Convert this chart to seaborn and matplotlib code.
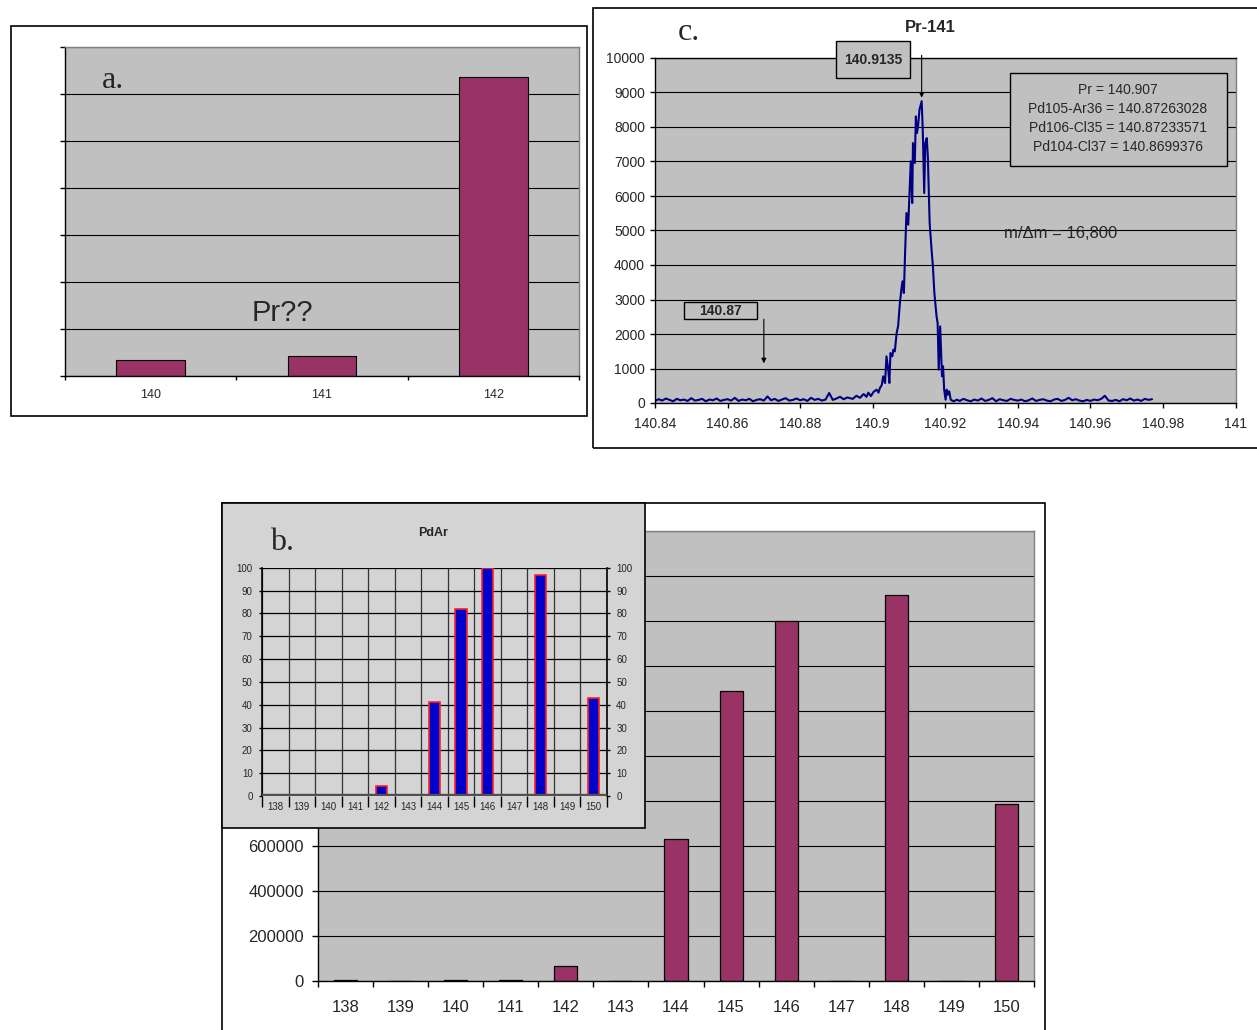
import numpy as np
import pandas as pd
import matplotlib
matplotlib.use("Agg")
import matplotlib.pyplot as plt
from matplotlib.patches import Rectangle
import seaborn as sns

# ---------------------------------------------------------------- data
# a. counts around mass 140-142
a_masses = ["140", "141", "142"]
a_counts = [340, 430, 6370]

# b. PdAr cluster: measured counts and calculated relative abundance (%)
b_masses = ["138", "139", "140", "141", "142", "143", "144",
            "145", "146", "147", "148", "149", "150"]
b_counts = [4000, 0, 4000, 4000, 68000, 0, 630000,
            1290000, 1600000, 0, 1715000, 0, 785000]
pdar_pct = [0, 0, 0, 0, 4.2, 0, 41.2, 81.7, 100, 0, 96.6, 0, 42.8]

# c. high-resolution scan of Pr-141
scan_step = 0.001
left_base_start = 140.840
left_base = [60, 110, 70, 130, 90, 50, 120, 80, 100, 60, 140, 70, 90, 120,
             50, 100, 80, 130, 60, 90, 110, 70, 150, 60, 100, 80, 120, 50,
             90, 110, 70, 190, 80, 120, 60, 100, 140, 70, 90, 130, 80, 110,
             60, 150, 90, 120, 70, 100, 290, 90, 130, 180, 110, 160]
peak_mass = [140.8945, 140.8955, 140.8965, 140.8975, 140.8983, 140.8988,
             140.8995, 140.9003, 140.9011, 140.9016, 140.9020, 140.9025,
             140.9029, 140.9034, 140.9038, 140.9043, 140.9046, 140.9049,
             140.9054, 140.9057, 140.9061, 140.9066, 140.9070, 140.9075,
             140.9079, 140.9082, 140.9086, 140.9089, 140.9093, 140.9098,
             140.9102, 140.9105, 140.9109, 140.9111, 140.9116, 140.9119,
             140.9122, 140.9125, 140.9129, 140.9135, 140.9138, 140.9142,
             140.9145, 140.9149, 140.9152, 140.9155, 140.9157, 140.9161,
             140.9163, 140.9166, 140.9170, 140.9176, 140.9179, 140.9182,
             140.9186, 140.9191, 140.9194, 140.9197, 140.9201, 140.9204,
             140.9207, 140.9211, 140.9215, 140.9223, 140.9232]
peak_counts = [120, 210, 150, 260, 180, 300,
               200, 330, 386, 300, 435, 520,
               773, 580, 1352, 966, 580, 1449,
               1352, 1546, 1497, 2029, 2222, 2898,
               3284, 3526, 3188, 4250, 5506, 5168,
               6182, 7004, 5796, 7535, 6955, 8308,
               7825, 8018, 8501, 8750, 7921, 6086,
               7535, 7680, 7148, 5989, 5216, 4637,
               4347, 3961, 3188, 2512, 2318, 966,
               2222, 773, 1063, 386, 97, 386,
               242, 338, 97, 48, 97]
right_base_start = 140.924
right_base = [60, 120, 80, 50, 100, 70, 130, 60, 90, 140, 50, 110, 80, 60,
              120, 90, 70, 100, 50, 80, 130, 60, 90, 110, 70, 50, 100, 120,
              60, 90, 150, 80, 110, 70, 50, 90, 60, 100, 80, 120, 210, 70,
              60, 90, 50, 110, 80, 130, 70, 100, 60, 120, 90, 110]

legend_lines = ["Pr = 140.907", "Pd105-Ar36 = 140.87263028",
                "Pd106-Cl35 = 140.87233571", "Pd104-Cl37 = 140.8699376"]
c_xticks = [140.84, 140.86, 140.88, 140.90, 140.92, 140.94, 140.96, 140.98, 141.0]
c_xlabels = ["140.84", "140.86", "140.88", "140.9", "140.92", "140.94",
             "140.96", "140.98", "141"]

left_mass = left_base_start + scan_step * np.arange(len(left_base))
right_mass = right_base_start + scan_step * np.arange(len(right_base))
scan = pd.DataFrame({
    "mass": np.concatenate([left_mass, peak_mass, right_mass]),
    "counts": np.concatenate([left_base, peak_counts, right_base]),
})

# ---------------------------------------------------------------- style
sns.set_style("white")
plt.rcParams["font.family"] = ["Liberation Sans", "DejaVu Sans"]
SERIF = ["Liberation Serif", "DejaVu Serif"]

W, H = 1257, 1030
PLOT_BG = "#c0c0c0"
PLUM = "#993366"

fig = plt.figure(figsize=(W / 100, H / 100), dpi=100)


def axes_at(x0, y0, x1, y1, **kw):
    return fig.add_axes([x0 / W, 1 - y1 / H, (x1 - x0) / W, (y1 - y0) / H], **kw)


def fig_rect(x0, y0, x1, y1, **kw):
    r = Rectangle((x0 / W, 1 - y1 / H), (x1 - x0) / W, (y1 - y0) / H,
                  transform=fig.transFigure, **kw)
    fig.patches.append(r)
    return r


def fig_text(x, y, s, **kw):
    return fig.text(x / W, 1 - y / H, s, **kw)


def excel_spines(ax, side_color="#808080"):
    for s in ("left", "bottom"):
        ax.spines[s].set_color("black")
        ax.spines[s].set_linewidth(1.0)
    for s in ("top", "right"):
        ax.spines[s].set_color(side_color)
        ax.spines[s].set_linewidth(1.0)


def category_ticks(ax, n, labelsize, pad, tick_len):
    ax.set_xlim(-0.5, n - 0.5)
    ax.set_xticks(np.arange(n))
    ax.set_xticks(np.arange(n + 1) - 0.5, minor=True)
    ax.tick_params(axis="x", which="major", length=0, pad=pad, labelsize=labelsize)
    ax.tick_params(axis="x", which="minor", length=tick_len, width=1,
                   color="black", direction="out", bottom=True)


# ---------------------------------------------------------------- a.
fig_rect(11, 26, 587, 416, fill=False, edgecolor="black", lw=1.2)
ax_a = axes_at(65, 47, 579, 376)
ax_a.set_facecolor(PLOT_BG)
sns.barplot(x=a_masses, y=a_counts, color=PLUM, saturation=1, width=0.4,
            edgecolor="black", linewidth=0.8, errorbar=None, ax=ax_a)
ax_a.set_ylim(0, 7000)
ax_a.set_yticks(np.arange(0, 7001, 1000))
ax_a.set_yticklabels([])
ax_a.tick_params(axis="y", length=3.6, width=1, color="black", left=True)
ax_a.grid(axis="y", color="black", lw=0.8)
ax_a.set_axisbelow(True)
category_ticks(ax_a, 3, 9, 9.6, 3.1)
excel_spines(ax_a)
ax_a.set_xlabel("")
ax_a.set_ylabel("")
fig_text(102, 88, "a.", family=SERIF, fontsize=23, va="baseline", ha="left")
fig_text(252, 321, "Pr??", fontsize=21, va="baseline", ha="left")

# ---------------------------------------------------------------- c.
fig_rect(593, 8, 1265, 448, fill=False, edgecolor="black", lw=1.2)
ax_c = axes_at(655, 58, 1235.5, 403)
ax_c.set_facecolor(PLOT_BG)
sns.lineplot(data=scan, x="mass", y="counts", color="#000080", lw=1.5,
             estimator=None, ax=ax_c)
ax_c.set_xlim(140.84, 141.0)
ax_c.set_ylim(0, 10000)
ax_c.set_xticks(c_xticks, c_xlabels)
ax_c.set_yticks(np.arange(0, 10001, 1000))
ax_c.tick_params(axis="both", labelsize=10, length=3.6, width=1,
                 color="black", bottom=True, left=True)
ax_c.tick_params(axis="x", pad=6.5)
ax_c.tick_params(axis="y", pad=3.6)
ax_c.grid(axis="y", color="black", lw=0.8)
ax_c.set_axisbelow(True)
excel_spines(ax_c)
ax_c.spines["top"].set_color("black")
ax_c.set_xlabel("")
ax_c.set_ylabel("")

fig_text(930, 28, "Pr-141", fontsize=12, fontweight="bold", ha="center", va="center")
fig_text(678, 40, "c.", family=SERIF, fontsize=23, va="baseline", ha="left")

# peak position marker
fig_rect(836, 41, 910, 78, facecolor=PLOT_BG, edgecolor="black", lw=1.0, zorder=2)
fig_text(873, 59.5, "140.9135", fontsize=10, fontweight="bold", ha="center",
         va="center", zorder=3)
ax_c.annotate("", xy=(140.9135, 8850), xytext=(140.9135, 10080),
              arrowprops=dict(arrowstyle="-|>", color="black", lw=0.8,
                              mutation_scale=7, shrinkA=0, shrinkB=0),
              annotation_clip=False)
# PdAr / PdCl interference position
fig_rect(684, 302, 757, 319, facecolor=PLOT_BG, edgecolor="black", lw=1.0, zorder=2)
fig_text(720.5, 311, "140.87", fontsize=10, fontweight="bold", ha="center",
         va="center", zorder=3)
ax_c.annotate("", xy=(140.87, 1150), xytext=(140.87, 2430),
              arrowprops=dict(arrowstyle="-|>", color="black", lw=0.8,
                              mutation_scale=7, shrinkA=0, shrinkB=0),
              annotation_clip=False)
# exact masses
fig_rect(1010, 73, 1227, 166, facecolor=PLOT_BG, edgecolor="black", lw=1.0, zorder=2)
for i, line in enumerate(legend_lines):
    fig_text(1118, 90 + 19 * i, line, fontsize=10, ha="center", va="center", zorder=3)
fig_text(1004, 233, "m/\u0394m = 16,800", fontsize=12, ha="left", va="center")

# ---------------------------------------------------------------- b. main
fig_rect(222, 503, 1045, 1045, fill=False, edgecolor="black", lw=1.2)
ax_b = axes_at(318, 531, 1034, 981)
ax_b.set_facecolor(PLOT_BG)
sns.barplot(x=b_masses, y=b_counts, color=PLUM, saturation=1, width=0.42,
            edgecolor="black", linewidth=0.9, errorbar=None, ax=ax_b)
ax_b.set_ylim(0, 2000000)
yt = np.arange(0, 2000001, 200000)
# values above 600000 sit beneath the PdAr inset, so only the lower ones are labelled
ax_b.set_yticks(yt, [str(v) if v <= 600000 else "" for v in yt])
ax_b.tick_params(axis="y", labelsize=12, length=4.3, width=1, color="black",
                 left=True, pad=5.8)
ax_b.grid(axis="y", color="black", lw=0.8)
ax_b.set_axisbelow(True)
category_ticks(ax_b, len(b_masses), 12, 13.4, 4.3)
excel_spines(ax_b)
ax_b.set_xlabel("")
ax_b.set_ylabel("")

# ---------------------------------------------------------------- b. inset
fig_rect(222, 503, 645, 828, facecolor="#d4d4d4", edgecolor="black", lw=1.2, zorder=1.5)
ax_i = axes_at(262, 567.7, 607, 796, zorder=2)
ax_i.set_facecolor("none")
sns.barplot(x=b_masses, y=pdar_pct, color="#0000cc", saturation=1, width=0.43,
            edgecolor="#ff2020", linewidth=1.2, errorbar=None, ax=ax_i)
ax_i.set_ylim(0, 100)
ax_i.set_yticks(np.arange(0, 101, 10))
ax_i.tick_params(axis="y", labelsize=7, length=2.4, width=1, color="black",
                 left=True, right=True, labelleft=True, labelright=True, pad=4.3)
category_ticks(ax_i, len(b_masses), 7, 4.5, 8)
ax_i.grid(axis="y", which="major", color="black", lw=0.9)
ax_i.grid(axis="x", which="minor", color="#333333", lw=0.9)
ax_i.grid(axis="x", which="major", visible=False)
ax_i.set_axisbelow(True)
ax_i.axhspan(-0.4, 1.0, color="#505050", zorder=3)
for s in ("left", "right"):
    ax_i.spines[s].set_color("black")
    ax_i.spines[s].set_linewidth(1.2)
ax_i.spines["top"].set_visible(False)
ax_i.spines["bottom"].set_visible(False)
ax_i.set_xlabel("")
ax_i.set_ylabel("")
fig_text(433, 533, "PdAr", fontsize=9, fontweight="bold", ha="center",
         va="center", zorder=3)
fig_text(270, 550.5, "b.", family=SERIF, fontsize=23, va="baseline",
         ha="left", zorder=3)

fig.savefig("out.png", dpi=100)
